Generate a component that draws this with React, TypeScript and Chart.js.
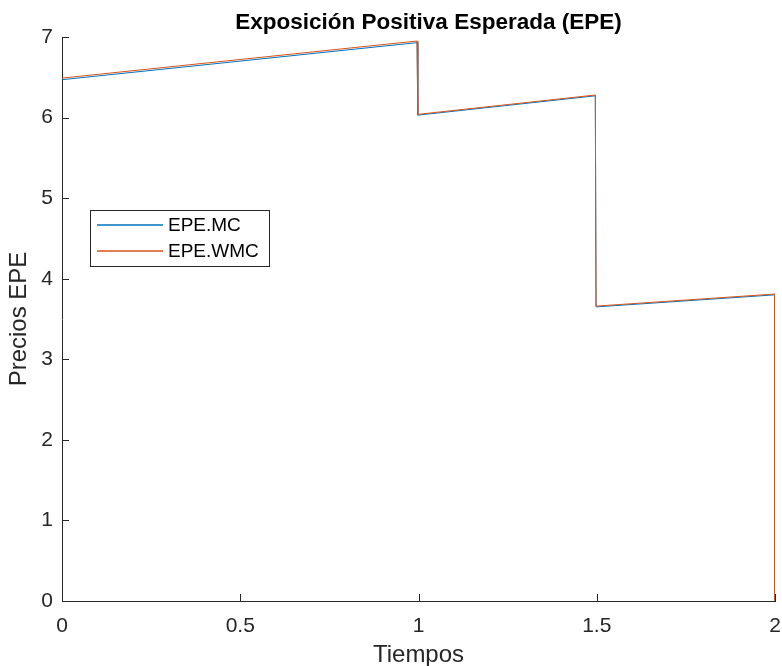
import React, { useEffect, useRef } from "react";
import { Chart, registerables } from "chart.js";

Chart.register(...registerables);

const tiempos = [0, 0.996, 0.998, 1.496, 1.498, 2.0, 2.0];
const epeMC = [6.47, 6.93, 6.03, 6.27, 3.65, 3.8, 0];
const epeWMC = [6.49, 6.95, 6.04, 6.28, 3.66, 3.81, 0];
const seriesLabels = ["EPE.MC", "EPE.WMC"];
const seriesColors = ["#0072BD", "#D95319"];
const xTicks = [0, 0.5, 1, 1.5, 2];
const yTicks = [0, 1, 2, 3, 4, 5, 6, 7];
const titleText = "Exposición Positiva Esperada (EPE)";

const FONT = "'Liberation Sans', Arial, Helvetica, sans-serif";
const AXIS = "#262626";

const innerTicks = {
  id: "innerTicks",
  afterDraw(chart: any) {
    const { ctx, chartArea, scales } = chart;
    ctx.save();
    ctx.strokeStyle = AXIS;
    ctx.lineWidth = 1;
    const len = 7;
    xTicks.forEach((v) => {
      const px = Math.round(scales.x.getPixelForValue(v)) + 0.5;
      ctx.beginPath();
      ctx.moveTo(px, chartArea.bottom);
      ctx.lineTo(px, chartArea.bottom - len);
      ctx.stroke();
    });
    yTicks.forEach((v) => {
      const py = Math.round(scales.y.getPixelForValue(v)) + 0.5;
      ctx.beginPath();
      ctx.moveTo(chartArea.left, py);
      ctx.lineTo(chartArea.left + len, py);
      ctx.stroke();
    });
    ctx.restore();
  },
};

const axesTitle = {
  id: "axesTitle",
  afterDraw(chart: any) {
    const { ctx, chartArea } = chart;
    ctx.save();
    ctx.font = `bold 22.5px ${FONT}`;
    ctx.fillStyle = "#000000";
    ctx.textAlign = "center";
    ctx.textBaseline = "alphabetic";
    ctx.fillText(titleText, (chartArea.left + chartArea.right) / 2 + 10, 29);
    ctx.restore();
  },
};

const xLabel = {
  id: "xLabel",
  afterDraw(chart: any) {
    const { ctx, chartArea } = chart;
    ctx.save();
    ctx.font = `24px ${FONT}`;
    ctx.fillStyle = AXIS;
    ctx.textAlign = "center";
    ctx.textBaseline = "alphabetic";
    ctx.fillText("Tiempos", (chartArea.left + chartArea.right) / 2, 662);
    ctx.restore();
  },
};

const boxLegend = {
  id: "boxLegend",
  afterDraw(chart: any) {
    const { ctx } = chart;
    const x0 = 90.5, y0 = 210.5, w = 179, h = 56;
    ctx.save();
    ctx.fillStyle = "#ffffff";
    ctx.fillRect(x0, y0, w, h);
    ctx.strokeStyle = AXIS;
    ctx.lineWidth = 1;
    ctx.strokeRect(x0, y0, w, h);
    ctx.font = `19px ${FONT}`;
    ctx.textBaseline = "middle";
    ctx.textAlign = "left";
    chart.data.datasets.forEach((ds: any, i: number) => {
      const y = 225 + i * 26;
      ctx.strokeStyle = ds.borderColor;
      ctx.lineWidth = 1.6;
      ctx.beginPath();
      ctx.moveTo(97, y);
      ctx.lineTo(163, y);
      ctx.stroke();
      ctx.fillStyle = "#000000";
      ctx.fillText(ds.label, 168, y + 1);
    });
    ctx.restore();
  },
};

export default function App() {
  const ref = useRef<HTMLCanvasElement>(null);

  useEffect(() => {
    if (!ref.current) return;
    const mk = (vals: number[]) => tiempos.map((t, i) => ({ x: t, y: vals[i] }));
    const chart = new Chart(ref.current, {
      type: "line",
      data: {
        datasets: [
          {
            label: seriesLabels[0],
            data: mk(epeMC),
            borderColor: seriesColors[0],
            borderWidth: 1,
            pointRadius: 0,
            tension: 0,
            fill: false,
            order: 1,
          },
          {
            label: seriesLabels[1],
            data: mk(epeWMC),
            borderColor: seriesColors[1],
            borderWidth: 1,
            pointRadius: 0,
            tension: 0,
            fill: false,
            order: 0,
          },
        ],
      },
      options: {
        animation: false,
        responsive: false,
        devicePixelRatio: 1,
        layout: { padding: { left: 0, right: 7, top: 37, bottom: 0 } },
        plugins: {
          legend: { display: false },
          tooltip: { enabled: false },
          title: { display: false },
        },
        scales: {
          x: {
            type: "linear",
            min: 0,
            max: 2,
            afterBuildTicks: (s: any) => {
              s.ticks = xTicks.map((v) => ({ value: v }));
            },
            afterFit: (s: any) => {
              s.height = 65;
              s.paddingLeft = 0;
              s.paddingRight = 0;
            },
            ticks: {
              color: AXIS,
              font: { family: FONT, size: 21 },
              padding: 13,
              maxRotation: 0,
              callback: (v: any) => String(v),
            },
            grid: { display: false, drawTicks: false },
            border: { display: true, color: AXIS, width: 1 },
            title: { display: false },
          },
          y: {
            type: "linear",
            min: 0,
            max: 7,
            afterBuildTicks: (s: any) => {
              s.ticks = yTicks.map((v) => ({ value: v }));
            },
            afterFit: (s: any) => {
              s.width = 62;
              s.paddingTop = 0;
              s.paddingBottom = 0;
            },
            ticks: {
              color: AXIS,
              font: { family: FONT, size: 21 },
              padding: 9,
              callback: (v: any) => String(v),
            },
            grid: { display: false, drawTicks: false },
            border: { display: true, color: AXIS, width: 1 },
            title: {
              display: true,
              text: "Precios EPE",
              color: AXIS,
              font: { family: FONT, size: 24 },
              padding: { top: 5, bottom: 0 },
            },
          },
        },
      },
      plugins: [innerTicks, boxLegend, axesTitle, xLabel],
    });
    return () => chart.destroy();
  }, []);

  return (
    <div style={{ position: "fixed", left: 0, top: 0, width: 782, height: 666, background: "#ffffff" }}>
      <canvas ref={ref} width={782} height={666} style={{ width: 782, height: 666 }} />
    </div>
  );
}
